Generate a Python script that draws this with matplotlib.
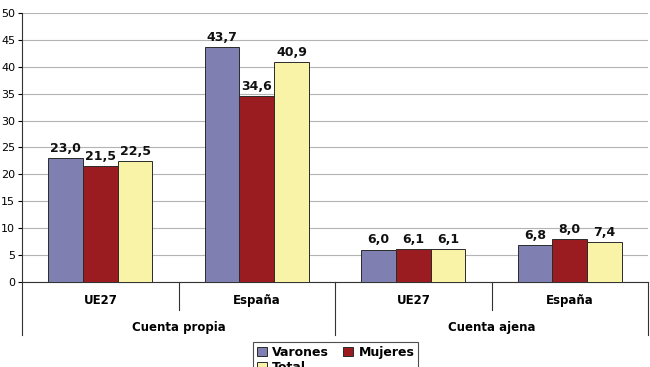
import numpy as np
import matplotlib.pyplot as plt
from matplotlib.lines import Line2D
import matplotlib.transforms as mtransforms

categorias = ['UE27', 'España', 'UE27', 'España']
grupos = ['Cuenta propia', 'Cuenta ajena']
series = ['Varones', 'Mujeres', 'Total']
varones = [23.0, 43.7, 6.0, 6.8]
mujeres = [21.5, 34.6, 6.1, 8.0]
total = [22.5, 40.9, 6.1, 7.4]

colores = ['#7f7fb2', '#9a1b20', '#f9f3a8']

fig = plt.figure(figsize=(6.5, 3.67), dpi=100)
ax = fig.add_axes([0.034, 0.2316, 0.963, 0.733])

x = np.arange(len(categorias))
w = 0.222
handles = []
for i, (vals, col, name) in enumerate(zip([varones, mujeres, total], colores, series)):
    pos = x + (i - 1) * w
    bars = ax.bar(pos, vals, w, color=col, edgecolor='#2a2a2a', linewidth=0.7,
                  label=name, zorder=3)
    handles.append(bars)
    for xp, v in zip(pos, vals):
        ax.text(xp, v + 0.6, f'{v:.1f}'.replace('.', ','), ha='center', va='bottom',
                fontsize=9, fontweight='bold', color='#111111')

ax.set_xlim(-0.5, len(categorias) - 0.5)
ax.set_ylim(0, 50)
ax.set_yticks(range(0, 51, 5))
ax.tick_params(axis='y', labelsize=8, length=3, pad=2)
ax.set_xticks([])
ax.yaxis.grid(True, color='#b4b4b4', linewidth=0.8, zorder=0)
for s in ['top', 'right']:
    ax.spines[s].set_visible(False)
ax.spines['left'].set_color('#333333')
ax.spines['bottom'].set_color('#333333')

trans = mtransforms.blended_transform_factory(ax.transData, ax.transAxes)
# separadores de categorias
for xb in [0.5, 2.5]:
    ax.add_line(Line2D([xb, xb], [0, -0.104], transform=trans, color='#333333',
                       linewidth=0.8, clip_on=False))
for xb in [-0.5, 1.5, 3.5]:
    ax.add_line(Line2D([xb, xb], [0, -0.197], transform=trans, color='#333333',
                       linewidth=0.8, clip_on=False))

for xi, c in zip(x, categorias):
    ax.text(xi, -0.07, c, transform=trans, ha='center', va='center',
            fontsize=8.5, fontweight='bold')
for gi, g in enumerate(grupos):
    ax.text(gi * 2 + 0.5, -0.168, g, transform=trans, ha='center', va='center',
            fontsize=8.5, fontweight='bold')

# orden para que la primera fila sea Varones, Mujeres
orden = [0, 2, 1]
leg = fig.legend([handles[k] for k in orden], [series[k] for k in orden],
                 loc='upper left', bbox_to_anchor=(0.389, 1 - 342 / 367), ncol=2,
                 borderaxespad=0, frameon=True, fancybox=False, edgecolor='#222222',
                 handlelength=0.8, handleheight=0.8, handletextpad=0.4,
                 columnspacing=1.2, borderpad=0.3, labelspacing=0.2,
                 prop={'weight': 'bold', 'size': 9})
leg.get_frame().set_linewidth(0.8)

fig.savefig('out.png', dpi=100)
